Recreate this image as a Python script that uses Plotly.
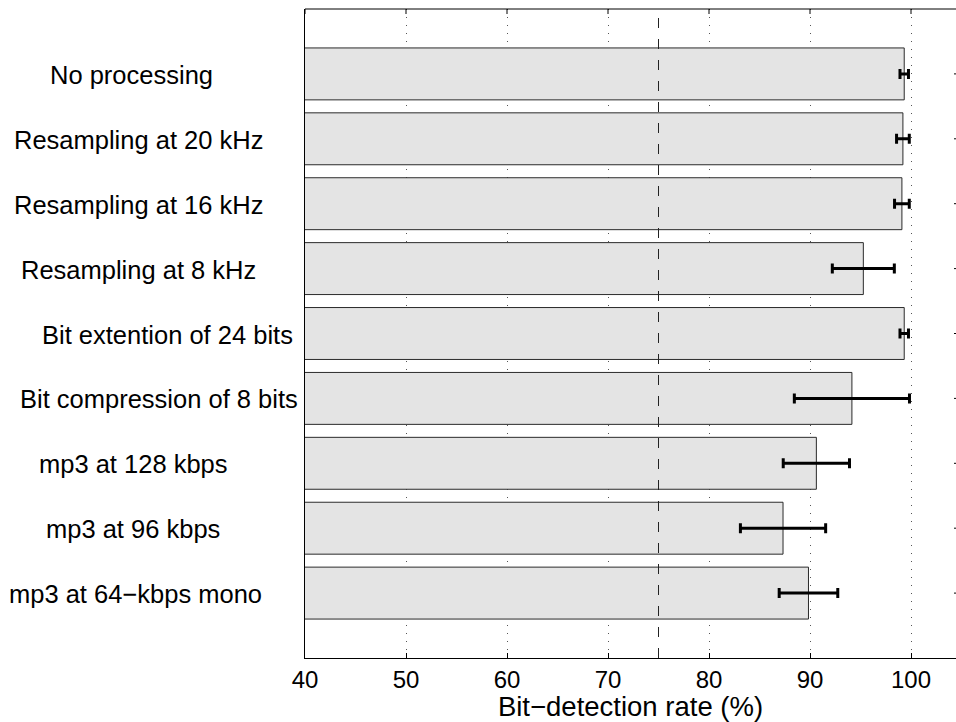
import plotly.graph_objects as go

# Bit-detection results per processing condition (mean and spread, %)
conditions = [
    "No processing",
    "Resampling at 20 kHz",
    "Resampling at 16 kHz",
    "Resampling at 8 kHz",
    "Bit extention of 24 bits",
    "Bit compression of 8 bits",
    "mp3 at 128 kbps",
    "mp3 at 96 kbps",
    "mp3 at 64\u2212kbps mono",
]
detection_rate = [99.33, 99.2, 99.1, 95.28, 99.33, 94.15, 90.63, 87.33, 89.85]
spread = [0.42, 0.63, 0.73, 3.07, 0.42, 5.7, 3.28, 4.22, 2.9]
threshold = 75
x_ticks = [40, 50, 60, 70, 80, 90, 100]

# horizontal placement of each condition label (pixel centre, left of the axes)
label_centres_px = [131, 138, 138, 138, 167, 159, 133, 133, 136]

FONT = "Liberation Sans, Arial, Helvetica, sans-serif"
W, H = 956, 722
ML, MR, MT, MB = 305, 0, 9, 64
plot_w = W - ML - MR
plot_h = H - MT - MB
TICK_LEN = 5
x_range = [40, 40 + plot_w / 10.1]

positions = list(range(1, len(conditions) + 1))

fig = go.Figure()
fig.add_trace(go.Bar(
    x=detection_rate,
    y=positions,
    orientation="h",
    width=0.8,
    marker=dict(color="#e4e4e4", line=dict(color="#2a2a2a", width=1)),
    error_x=dict(type="data", array=spread, visible=True,
                 color="black", thickness=3, width=5),
    showlegend=False,
    hoverinfo="skip",
))

# chance-level reference line
fig.add_shape(type="line", xref="x", yref="paper",
              x0=threshold, x1=threshold, y0=0, y1=1,
              line=dict(color="#222222", width=1, dash="10px,11px"),
              layer="above")

# top edge of the frame with its inward ticks
fig.add_shape(type="line", xref="paper", yref="paper",
              x0=0, x1=1, y0=1, y1=1,
              line=dict(color="black", width=1), layer="above")
for t in x_ticks:
    fig.add_shape(type="line", xref="x", yref="paper",
                  x0=t, x1=t, y0=1, y1=1 - TICK_LEN / plot_h,
                  line=dict(color="black", width=1), layer="above")

# inward ticks on the right edge of the frame
for pos in positions:
    fig.add_shape(type="line", xref="paper", yref="y",
                  x0=1 - 2 / plot_w, x1=1, y0=pos, y1=pos,
                  line=dict(color="black", width=1), layer="above")

for pos, name, cx in zip(positions, conditions, label_centres_px):
    fig.add_annotation(
        x=(cx - ML) / plot_w, xref="paper",
        y=pos, yref="y",
        text=name, showarrow=False,
        xanchor="center", yanchor="middle", yshift=-1,
        font=dict(family=FONT, size=25.5, color="black"),
    )

fig.update_layout(
    width=W, height=H,
    margin=dict(l=ML, r=MR, t=MT, b=MB),
    paper_bgcolor="white", plot_bgcolor="white",
    font=dict(family=FONT, color="black"),
    bargap=0.2,
)

fig.update_xaxes(
    range=x_range,
    tickvals=x_ticks,
    ticks="inside", ticklen=TICK_LEN, tickcolor="black", tickwidth=1,
    showline=True, linecolor="black", linewidth=1, mirror=False,
    showgrid=True, gridcolor="#555555", gridwidth=1, griddash="1px,7px",
    zeroline=False,
    tickfont=dict(family=FONT, size=24, color="black"),
    title=dict(text="Bit\u2212detection rate (%)",
               font=dict(family=FONT, size=27.5, color="black"), standoff=4),
    automargin=False,
)

fig.update_yaxes(
    range=[len(conditions) + 1, 0],
    tickvals=positions,
    showticklabels=False,
    ticks="",
    showline=True, linecolor="black", linewidth=1, mirror=False,
    showgrid=False, zeroline=False,
    automargin=False,
)

fig.write_html("out.html")
